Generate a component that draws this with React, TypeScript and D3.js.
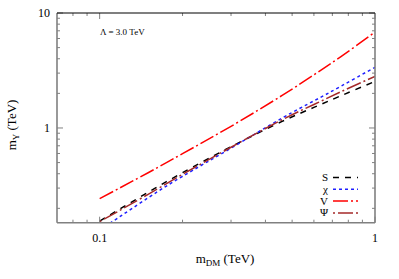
import React from "react";
import * as d3 from "d3";

const mDM = [0.1, 0.15, 0.2, 0.3, 0.46, 0.6, 0.75, 1.0];
const seriesS = [0.155, 0.276, 0.408, 0.687, 1.14, 1.51, 1.9, 2.54];
const seriesChi = [0.129, 0.247, 0.38, 0.668, 1.22, 1.72, 2.3, 3.37];
const seriesV = [0.243, 0.408, 0.598, 1.034, 1.92, 2.9, 4.16, 6.82];
const seriesPsi = [0.153, 0.265, 0.395, 0.68, 1.18, 1.6, 2.06, 2.81];

const xMajor = [0.1, 1];
const xMinor = [0.08, 0.09, 0.2, 0.3, 0.4, 0.5, 0.6, 0.7, 0.8, 0.9];
const yMajor = [1, 10];
const yMinor = [0.2, 0.3, 0.4, 0.5, 0.6, 0.7, 0.8, 0.9, 2, 3, 4, 5, 6, 7, 8, 9];

const series = [
  { name: "S", values: seriesS, color: "#000000", dash: "6,6" },
  { name: "χ", values: seriesChi, color: "#1f1fff", dash: "3,3" },
  { name: "V", values: seriesV, color: "#ff0000", dash: "15,3,2,3" },
  { name: "Ψ", values: seriesPsi, color: "#a52a2a", dash: "2,3,15,3" },
];

const W = 399, H = 279;
const L = 57, R = 375, T = 13, B = 222.7;

export default function App() {
  const x = d3.scaleLog().domain([0.07, 1]).range([L, R]);
  const y = d3.scaleLog().domain([0.15, 10]).range([B, T]);
  const serif = "'Liberation Serif', 'DejaVu Serif', serif";
  const axisGray = "#808080";

  return (
    <svg width={W} height={H} style={{ position: "absolute", left: 0, top: 0 }} fontFamily={serif}>
      <defs>
        <clipPath id="plotclip">
          <rect x={L} y={T} width={R - L} height={B - T} />
        </clipPath>
      </defs>
      <rect x={0} y={0} width={W} height={H} fill="#fff" />
      {/* curves */}
      <g clipPath="url(#plotclip)">
        {series.map((s) => {
          const line = d3
            .line<number>()
            .x((_, i) => x(mDM[i]))
            .y((v) => y(v))
            .curve(d3.curveNatural);
          return (
            <path key={s.name} d={line(s.values) || ""} fill="none" stroke={s.color}
              strokeWidth={1.5} strokeDasharray={s.dash} />
          );
        })}
      </g>
      {/* ticks */}
      {xMajor.map((t) => (
        <g key={"xM" + t}>
          <line x1={x(t)} x2={x(t)} y1={B} y2={B - 6} stroke={axisGray} strokeWidth={1} />
          <line x1={x(t)} x2={x(t)} y1={T} y2={T + 6} stroke={axisGray} strokeWidth={1} />
          <text x={x(t)} y={242} textAnchor="middle" fontSize={12}>{t}</text>
        </g>
      ))}
      {xMinor.map((t) => (
        <g key={"xm" + t}>
          <line x1={x(t)} x2={x(t)} y1={B} y2={B - 3} stroke={axisGray} strokeWidth={1} />
          <line x1={x(t)} x2={x(t)} y1={T} y2={T + 3} stroke={axisGray} strokeWidth={1} />
        </g>
      ))}
      {yMajor.map((t) => (
        <g key={"yM" + t}>
          <line x1={L} x2={L + 6} y1={y(t)} y2={y(t)} stroke={axisGray} strokeWidth={1} />
          <line x1={R} x2={R - 6} y1={y(t)} y2={y(t)} stroke={axisGray} strokeWidth={1} />
          <text x={50} y={y(t) + 4} textAnchor="end" fontSize={12}>{t}</text>
        </g>
      ))}
      {yMinor.map((t) => (
        <g key={"ym" + t}>
          <line x1={L} x2={L + 3} y1={y(t)} y2={y(t)} stroke={axisGray} strokeWidth={1} />
          <line x1={R} x2={R - 3} y1={y(t)} y2={y(t)} stroke={axisGray} strokeWidth={1} />
        </g>
      ))}
      {/* frame */}
      <line x1={L} x2={L} y1={T} y2={B} stroke={axisGray} strokeWidth={1.6} />
      <line x1={L} x2={R} y1={B} y2={B} stroke={axisGray} strokeWidth={1.6} />
      <line x1={R} x2={R} y1={T} y2={B} stroke={axisGray} strokeWidth={1.6} />
      <line x1={L} x2={R} y1={T} y2={T} stroke="#000" strokeWidth={1.2} />
      {/* annotation */}
      <text x={100} y={35} fontSize={9}>Λ = 3.0 TeV</text>
      {/* legend */}
      {series.map((s, i) => {
        const ly = 177.5 + i * 11.8;
        return (
          <g key={"lg" + s.name}>
            <text x={328} y={ly + 3.5} textAnchor="end" fontSize={11}>{s.name}</text>
            <line x1={333} x2={358} y1={ly} y2={ly} stroke={s.color} strokeWidth={1.5}
              strokeDasharray={s.dash} />
          </g>
        );
      })}
      {/* axis labels */}
      <text x={225} y={263} textAnchor="middle" fontSize={13}>
        m<tspan fontSize={9} dy={3}>DM</tspan>
        <tspan dy={-3}> (TeV)</tspan>
      </text>
      <text transform={`translate(16,125) rotate(-90)`} textAnchor="middle" fontSize={13}>
        m<tspan fontSize={9} dy={3}>Y</tspan>
        <tspan dy={-3}> (TeV)</tspan>
      </text>
    </svg>
  );
}
